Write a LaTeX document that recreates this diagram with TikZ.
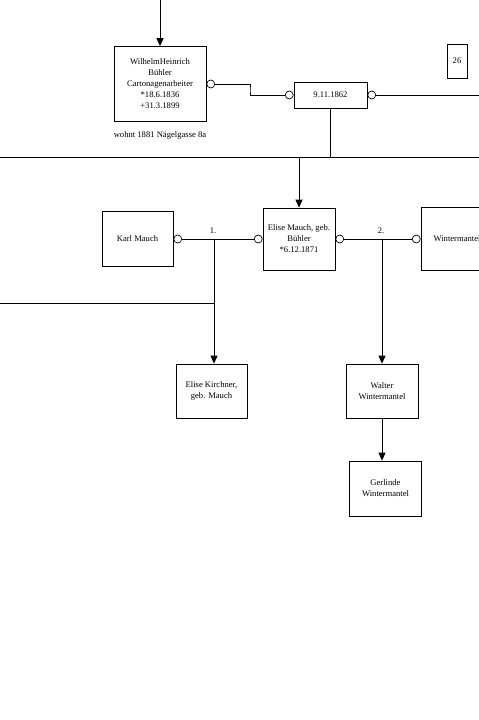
\documentclass[tikz,border=0pt]{standalone}
\usepackage{fontspec}
\setmainfont{Liberation Serif}
\usetikzlibrary{arrows.meta}
\tikzset{
  box/.style={draw, line width=0.8pt, fill=white, inner sep=0pt, align=center,
    font=\fontsize{8.6}{11}\selectfont},
  ring/.style={draw, line width=0.7pt, fill=white, circle, inner sep=0pt, minimum size=8pt},
  conn/.style={line width=0.8pt},
  arr/.style={line width=0.8pt, -{Triangle[width=7pt,length=8pt]}},
  lbl/.style={font=\fontsize{8.6}{11}\selectfont, inner sep=0pt}
}
\begin{document}
\begin{tikzpicture}[x=1pt,y=-1pt]
\useasboundingbox (0,0) rectangle (479,720);
\clip (0,0) rectangle (479,720);
% boxes
\node[box, minimum width=92pt, minimum height=75pt] (W) at (160,84)
  {WilhelmHeinrich\\Bühler\\Cartonagenarbeiter\\*18.6.1836\\+31.3.1899};
\node[lbl] (addr) at (160,135) {wohnt 1881 Nägelgasse 8a};
\node[box, minimum width=73pt, minimum height=26pt] (D) at (330.5,95) {9.11.1862};
\node[box, minimum width=20pt, minimum height=34pt] (B26) at (457,61) {26};
\node[box, minimum width=72pt, minimum height=62pt] (E) at (299,239)
  {Elise Mauch, geb.\\Bühler\\*6.12.1871};
\node[box, minimum width=71pt, minimum height=55pt] (K) at (137.5,239) {Karl Mauch};
\node[box, minimum width=72pt, minimum height=63pt] (Wi) at (457,239) {Wintermantel};
\node[box, minimum width=71pt, minimum height=54pt] (Ki) at (211.5,391)
  {Elise Kirchner,\\geb. Mauch};
\node[box, minimum width=72pt, minimum height=54pt] (Wa) at (382,391)
  {Walter\\Wintermantel};
\node[box, minimum width=72pt, minimum height=55pt] (G) at (385.5,488.5)
  {Gerlinde\\Wintermantel};
% rings
\node[ring, anchor=west] (wr) at (W.east) {};
\node[ring, anchor=east] (dl) at (D.west) {};
\node[ring, anchor=west] (dr) at (D.east) {};
\node[ring, anchor=west] (kr) at (K.east) {};
\node[ring, anchor=east] (el) at (E.west) {};
\node[ring, anchor=west] (er) at (E.east) {};
\node[ring, anchor=east] (wl) at (Wi.west) {};
% coordinates
\coordinate (top) at (160,0);
\coordinate (c1) at (250,90);
\coordinate (rA) at (479,95);
\coordinate (hl) at (0,157);
\coordinate (hr) at (479,157);
\coordinate (hd) at (299,157);
\coordinate (j1) at (214,239);
\coordinate (l2) at (0,303);
\coordinate (j2) at (382,239);
% connectors
\draw[arr] (top) -- (W.north);
\draw[conn] (wr.east) -| (c1) |- (dl.west);
\draw[conn] (dr.east) -- (rA);
\draw[conn] (D.south) -- (D.south |- hl);
\draw[conn] (hl) -- (hr);
\draw[arr] (hd) -- (E.north);
\draw[conn] (kr.east) -- (el.west);
\node[lbl] (n1) at (213,231) {1.};
\draw[arr] (j1) -- (j1 |- Ki.north);
\draw[conn] (l2) -- (j1 |- l2);
\draw[conn] (er.east) -- (wl.west);
\node[lbl] (n2) at (381,231) {2.};
\draw[arr] (j2) -- (Wa.north);
\draw[arr] (Wa.south) -- (Wa.south |- G.north);
\end{tikzpicture}
\end{document}
